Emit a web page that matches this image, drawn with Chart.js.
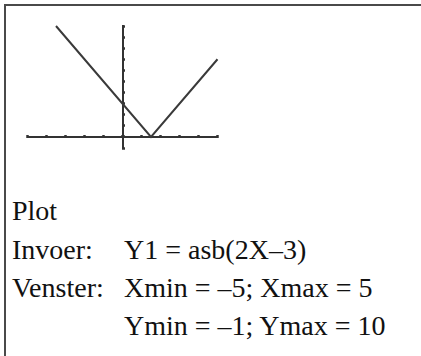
<!DOCTYPE html>
<html>
<head>
<meta charset="utf-8">
<script src="https://cdn.jsdelivr.net/npm/chart.js@4/dist/chart.umd.min.js"></script>
<style>
  html, body { margin: 0; padding: 0; background: #fff; overflow: hidden; }
  #page { position: relative; width: 421px; height: 356px; overflow: hidden; }
  #frame { position: absolute; left: 4px; top: 4px; width: 440px; height: 400px;
           border: 2px solid #4a4a4a; box-sizing: border-box; }
  #plot { position: absolute; left: 0; top: 0; width: 240px; height: 170px; }
  .row { position: absolute; left: 12px; font: 28px "Liberation Serif", "Times New Roman", serif;
         line-height: 38px; color: #111; white-space: nowrap; }
  .row .v { position: absolute; left: 112px; top: 0; }
</style>
</head>
<body>
<div id="page">
  <div id="frame"></div>
  <div id="plot"><canvas id="c" width="240" height="170"></canvas></div>
  <div class="row" style="top:192px">Plot</div>
  <div class="row" style="top:231px">Invoer:<span class="v">Y1 = asb(2X–3)</span></div>
  <div class="row" style="top:269px">Venster:<span class="v">Xmin = –5; Xmax = 5</span></div>
  <div class="row" style="top:307px"><span class="v">Ymin = –1; Ymax = 10</span></div>
</div>
<script>
// window settings
const xMin = -5, xMax = 5;
const yMin = -1, yMax = 10;

// Y1 = abs(2X - 3), corners
const xs = [-3.5, 1.5, 5];
const ys = [10, 0, 7];

const ink = '#333333';

const chart = new Chart(document.getElementById('c'), {
  type: 'scatter',
  data: {
    datasets: [{
      data: xs.map((x, i) => ({ x: x, y: ys[i] })),
      showLine: true,
      borderColor: '#3a3a3a',
      borderWidth: 2,
      pointRadius: 0,
      clip: false
    }]
  },
  options: {
    responsive: false,
    animation: false,
    layout: { padding: { left: 27.5, right: 22.5, top: 26, bottom: 22 } },
    plugins: { legend: { display: false }, tooltip: { enabled: false } },
    scales: {
      x: {
        type: 'linear', min: xMin, max: xMax,
        position: { y: 0 },
        border: { display: true, color: ink, width: 2 },
        grid: { drawOnChartArea: false, drawTicks: true, tickLength: -3, tickWidth: 2.5, color: ink },
        ticks: { display: false, stepSize: 1 }
      },
      y: {
        type: 'linear', min: yMin, max: yMax,
        position: { x: 0 },
        border: { display: true, color: ink, width: 2 },
        grid: { drawOnChartArea: false, drawTicks: true, tickLength: -3, tickWidth: 2.5, color: ink },
        ticks: { display: false, stepSize: 1 }
      }
    }
  }
});
</script>
</body>
</html>
